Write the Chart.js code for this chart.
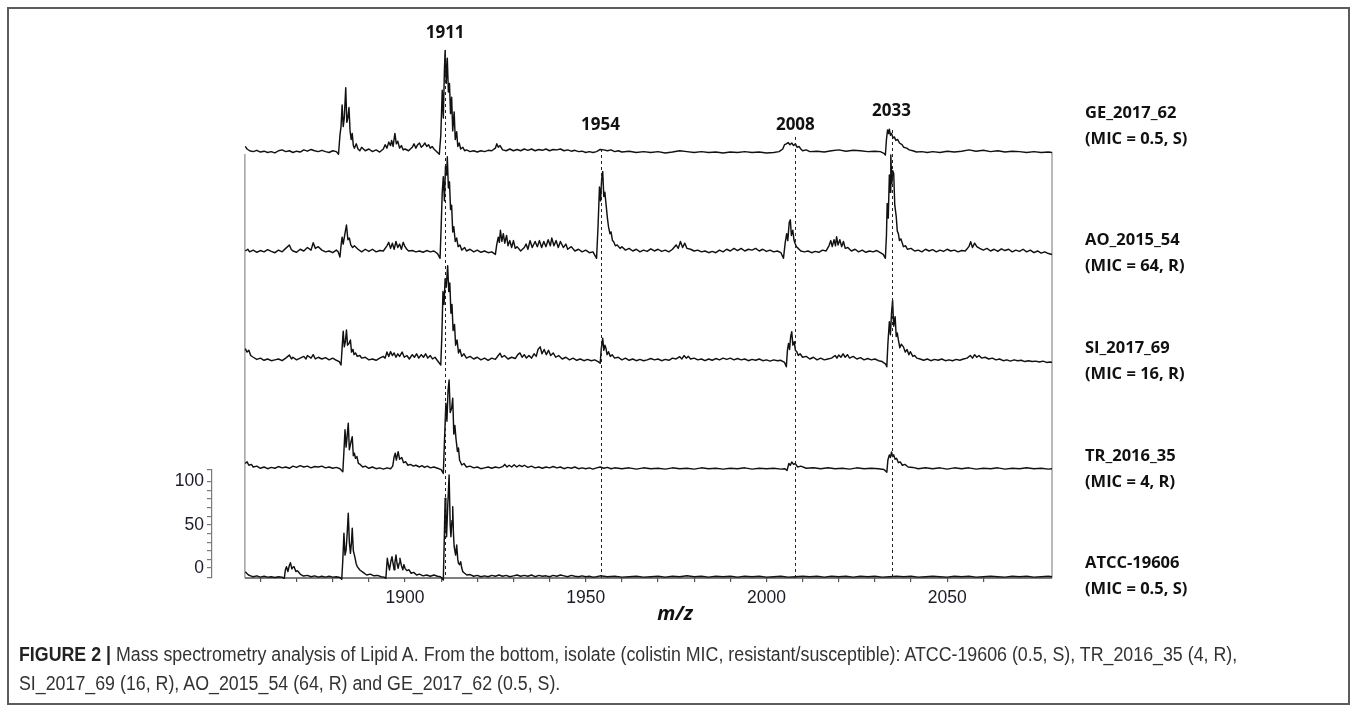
<!DOCTYPE html>
<html>
<head>
<meta charset="utf-8">
<title>Lipid A mass spectra</title>
<script src="https://cdn.jsdelivr.net/npm/chart.js@4.4.1/dist/chart.umd.min.js"></script>
<style>
  html, body { margin: 0; padding: 0; background: #fff; }
  body { width: 1357px; height: 712px; position: relative; overflow: hidden; }
  #frame { position: absolute; left: 7px; top: 7px; width: 1339px; height: 694px; border: 2px solid #5c5c5c; }
  #chartBox { position: absolute; left: 0; top: 0; width: 1357px; height: 640px; }
  #caption { position: absolute; left: 19px; top: 640px; white-space: nowrap;
    font-family: "Liberation Sans", Arial, sans-serif;
    font-size: 20px; line-height: 29px; color: #333;
    transform: scaleX(0.89); transform-origin: 0 0; }
  #caption b { color: #222; }
</style>
</head>
<body>
<div id="chartBox"><canvas id="spectra"></canvas></div>
<div id="frame"></div>
<div id="caption"><b>FIGURE 2 |</b> Mass spectrometry analysis of Lipid A. From the bottom, isolate (colistin MIC, resistant/susceptible): ATCC-19606 (0.5, S), TR_2016_35 (4, R),<br>SI_2017_69 (16, R), AO_2015_54 (64, R) and GE_2017_62 (0.5, S).</div>
<script>
// ---------------- Data (m/z, relative intensity) ----------------

// isolates, bottom to top
const isolateNames = ['ATCC-19606', 'TR_2016_35', 'SI_2017_69', 'AO_2015_54', 'GE_2017_62'];
const isolateMic = ['(MIC = 0.5, S)', '(MIC = 4, R)', '(MIC = 16, R)', '(MIC = 64, R)', '(MIC = 0.5, S)'];

// marked peaks
const markerMz = [1911.1, 1954.1, 2008, 2034.6];
const markerText = ['1911', '1954', '2008', '2033'];

// tick labels
const xTickLabels = [1900, 1950, 2000, 2050];
const yTickLabels = [0, 50, 100];

const atccSpectrum = [
  [1855.8, -4.2], [1856.2, -6], [1856.7, -8], [1857.3, -9], [1858, -10], [1859, -9], [1860, -10.5], [1861, -9.5],
  [1862, -10.5], [1863, -10], [1864, -11], [1865, -10], [1866, -10.5], [1866.6, -11.9],
  [1866.9, -2], [1867.2, 1.6], [1867.6, -4], [1868, 3], [1868.3, 6.2], [1868.7, -1], [1869, 1], [1869.3, 1.6],
  [1869.8, -4], [1870.2, -3], [1870.5, -4.2], [1871, -7], [1871.9, -9.2], [1873, -8.5], [1874, -10], [1875, -9],
  [1876, -10.5], [1877, -9.5], [1878, -10.5], [1879, -9.5], [1880, -10.5], [1881, -10], [1882, -11], [1882.5, -13],
  [1882.8, 10], [1883.1, 40.2], [1883.4, 15], [1883.7, 20.9], [1884, 40], [1884.3, 63.4], [1884.6, 30], [1884.9, 17],
  [1885.2, 30], [1885.4, 46], [1885.7, 20], [1886, 15], [1886.2, 11.3], [1886.5, 5], [1886.8, 1.6], [1887.5, -2.2],
  [1888.4, -5], [1889.4, -8], [1890.4, -7], [1891.4, -9], [1892.4, -8.5], [1893.4, -10], [1894.2, -10.5], [1894.7, -11.9],
  [1895.1, 11.3], [1895.4, 4], [1895.7, -2.2], [1896.1, 8], [1896.4, 13.2], [1896.7, 5], [1897, -2], [1897.2, 6],
  [1897.5, 15.1], [1897.8, 5], [1898.1, -0.3], [1898.4, 6], [1898.6, 11.3], [1899, 3], [1899.4, -2], [1899.7, 4],
  [1900, -0.3], [1900.5, -3], [1901.1, -2], [1901.7, -6], [1902.4, -5], [1903.2, -8], [1904, -7], [1905, -9],
  [1906, -8], [1907, -9.5], [1908, -8], [1909, -9.5], [1909.8, -10], [1910.3, -12], [1910.6, -13.8],
  [1910.9, 40], [1911.1, 80.7], [1911.3, 50], [1911.5, 36.3], [1911.8, 70], [1912.2, 107.7], [1912.5, 50], [1912.7, 36.3],
  [1913, 55], [1913.2, 71], [1913.4, 40], [1913.6, 24.7], [1914, 15], [1914.3, 26.7], [1914.6, 10], [1914.8, 5.5],
  [1915.1, 4], [1915.4, 7.4], [1915.7, 0], [1916, -4.2], [1916.5, -6], [1917.1, -8], [1918, -7.5], [1919, -9.5],
  [1920, -8.5], [1921, -10], [1922, -9], [1923, -10], [1924, -8.5], [1925, -9.5], [1926, -8], [1927, -9.5],
  [1928, -8.5], [1929, -10], [1930, -9], [1931, -8], [1932, -9.5], [1933, -8.5], [1934, -9.5], [1935, -8],
  [1936, -10], [1937, -8.5], [1938, -9.5], [1939, -9], [1940, -10], [1941, -8.5], [1942, -9.5], [1943, -8],
  [1944, -9], [1945, -10], [1946, -8.5], [1947, -9.5], [1948, -10], [1949, -9], [1950, -10], [1951, -9.5],
  [1952, -10.5], [1953, -10], [1954, -9], [1956, -10], [1958, -9.5], [1960, -10.5], [1962, -10], [1964, -9.5],
  [1966, -10.5], [1968, -10], [1970, -9.5], [1972, -10.5], [1974, -9.5], [1976, -10], [1978, -9], [1980, -10],
  [1982, -9.5], [1984, -10.5], [1986, -9.5], [1988, -10], [1990, -9.5], [1992, -10.5], [1994, -9.5], [1996, -10],
  [1998, -9.5], [2000, -10.5], [2002, -10], [2004, -9.5], [2006, -10.5], [2008, -10], [2010, -9.5], [2012, -10],
  [2014, -9.5], [2016, -10.5], [2018, -9.5], [2020, -10], [2022, -9.5], [2024, -10.5], [2026, -9.5], [2028, -10],
  [2030, -9.5], [2032, -10.5], [2034, -10], [2036, -9.5], [2038, -10], [2040, -9.5], [2042, -10.5], [2044, -10],
  [2046, -9.5], [2048, -10], [2050, -10.5], [2052, -9.5], [2054, -10], [2056, -9.5], [2058, -10.5], [2060, -10],
  [2062, -9.5], [2064, -10], [2066, -10.5], [2068, -9.5], [2070, -10], [2072, -9.5], [2074, -10.5], [2076, -10],
  [2078, -9.5], [2079, -10]
];

const trSpectrum = [
  [1855.8, -4], [1856.3, -2], [1856.8, -6], [1857.5, -5], [1858, -8], [1859, -7], [1860, -9.5], [1861, -8],
  [1862, -10], [1863, -8.5], [1864, -9.5], [1865, -7.5], [1866, -9], [1867, -8], [1868, -9.5], [1869, -7],
  [1870, -8.5], [1871, -6.5], [1872, -8], [1873, -7], [1874, -9], [1875, -7.5], [1876, -8], [1877, -7],
  [1878, -9], [1879, -8], [1880, -9.5], [1881, -8.5], [1882, -10], [1882.8, -13.5],
  [1883.1, 10], [1883.4, 35], [1883.7, 15], [1884, 28], [1884.3, 42.5], [1884.6, 12], [1885, 20], [1885.4, 27],
  [1885.7, 5], [1886, 8], [1886.3, 2], [1886.7, 4], [1887.1, -3.7], [1887.6, -5], [1888.3, -8], [1889, -7],
  [1890, -9.5], [1891, -8], [1892, -10], [1893, -9], [1894, -10.5], [1895, -9], [1896, -10], [1896.6, -7],
  [1897, 4], [1897.3, 8], [1897.6, 0], [1898.1, 9.7], [1898.5, 1], [1899.1, 3], [1899.6, -3], [1900.2, -2],
  [1900.8, -6], [1901.5, -5], [1902.3, -7], [1903, -6], [1904, -8], [1904.7, -6.5], [1905.4, -8.5], [1906.2, -7],
  [1907, -9], [1908, -8], [1909, -9.5], [1910, -11], [1910.6, -15.4],
  [1910.9, 20], [1911.3, 65.7], [1911.6, 45], [1911.9, 80], [1912.2, 92.7], [1912.5, 55], [1912.9, 60], [1913.2, 71.5],
  [1913.5, 30], [1913.8, 40], [1914.1, 25], [1914.5, 10], [1914.8, 14], [1915.1, 0], [1915.7, -5.7], [1916.3, -4],
  [1917, -8], [1918, -7], [1919, -9], [1920, -8], [1921, -10], [1922, -9], [1923, -8], [1924, -9.5],
  [1925, -8], [1926, -9], [1927, -7.6], [1927.6, -5], [1928.2, -8], [1928.8, -6], [1929.5, -8], [1930.2, -5.5],
  [1930.9, -8], [1931.6, -6], [1932.4, -7.5], [1933, -6], [1934, -8.5], [1935, -7], [1936, -9], [1937, -8],
  [1938, -9.5], [1939, -8], [1940, -9], [1941, -7.5], [1942, -9], [1943, -8], [1944, -10], [1945, -8.5],
  [1946, -9.5], [1947, -8], [1948, -10], [1949, -9], [1950, -10], [1951, -9], [1952, -10.5], [1953, -9],
  [1954, -8], [1955, -9.5], [1956, -8.5], [1957, -10], [1958, -9], [1960, -10], [1962, -9], [1964, -10.5],
  [1966, -9], [1968, -10], [1970, -9.5], [1972, -10.5], [1974, -9], [1976, -10], [1978, -9.5], [1980, -10.5],
  [1982, -9], [1984, -10], [1986, -9.5], [1988, -10.5], [1990, -9.5], [1992, -10], [1994, -9], [1996, -10.5],
  [1998, -9.5], [2000, -10], [2002, -9.5], [2004, -10.5], [2005, -10], [2005.7, -12], [2006.2, -4], [2006.6, -6],
  [2007, -2.2], [2007.5, -5], [2008, -4], [2008.6, -8], [2009.5, -7], [2011, -9.5], [2013, -9], [2015, -10],
  [2017, -9], [2019, -10], [2021, -9.5], [2023, -10.5], [2025, -9], [2027, -10], [2029, -9.5], [2031, -10],
  [2032.5, -11], [2033.3, -14],
  [2033.6, 0], [2034, 6], [2034.3, 3], [2034.6, 9.3], [2034.9, 4], [2035.2, 6], [2035.6, 1], [2036, 2],
  [2036.5, -3], [2037, -2], [2037.6, -6], [2038.3, -5], [2039.2, -8], [2040.5, -8.5], [2042, -10], [2044, -9],
  [2046, -10], [2048, -9], [2050, -10.5], [2052, -9], [2054, -10], [2056, -9], [2058, -10.5], [2060, -9.5],
  [2062, -10], [2064, -9], [2066, -10.5], [2068, -9.5], [2070, -10], [2072, -9], [2074, -10], [2076, -9.5],
  [2078, -10.5], [2079, -10]
];

const siSpectrum = [
  [1855.8, 4], [1856.3, 0], [1856.8, 2], [1857.3, -4], [1858, -6], [1859, -8.5], [1860, -7], [1861, -9.5],
  [1862, -8], [1863, -10], [1864, -9], [1865, -8], [1866, -10], [1867, -7], [1868, -3.5], [1868.6, -8],
  [1869, -6], [1870, -9], [1871, -7], [1872, -5], [1872.6, -8], [1873, -4], [1874, -7], [1874.6, -3],
  [1875.2, -8], [1876, -6], [1877, -8], [1878, -6.5], [1879, -9], [1880, -7], [1881, -9.5], [1881.8, -11], [1882.3, -15],
  [1882.6, 5], [1882.9, 24], [1883.2, 6], [1883.5, 12], [1883.8, 25.5], [1884.1, 8], [1884.5, 10], [1884.9, 14],
  [1885.2, 0], [1885.6, 3], [1885.9, -3], [1886.3, -1], [1886.8, -5], [1887.5, -4], [1888, -7], [1889, -6],
  [1890, -9], [1891, -8], [1892, -9.5], [1893, -7], [1894, -5], [1894.5, -7], [1895, 0], [1895.5, -5],
  [1896, 0.5], [1896.5, -4], [1897, -1], [1897.5, -6], [1898, -2], [1898.5, -5], [1899.2, 0], [1899.8, -6],
  [1900.5, -4], [1901.2, -8], [1902, -3], [1902.6, -6], [1903.2, -2], [1903.8, -7], [1904.5, -3], [1905.1, -6],
  [1905.7, -2], [1906.3, -7], [1907, -4], [1907.6, -8], [1908.3, -6], [1909, -10], [1909.9, -15],
  [1910.2, 20], [1910.5, 70], [1910.8, 55], [1911.1, 85], [1911.4, 75], [1911.8, 100], [1912.1, 70], [1912.4, 80],
  [1912.7, 45], [1913, 55], [1913.3, 25], [1913.7, 32], [1914, 8], [1914.4, 14], [1914.8, -1], [1915.2, 3],
  [1915.7, -5], [1916.3, -2], [1917, -7], [1918, -5], [1919, -8], [1920, -6], [1921, -9], [1922, -7],
  [1923, -9.5], [1924, -7], [1925, -8.5], [1925.8, -4], [1926.3, -1.4], [1926.8, -6], [1927.5, -4], [1928.5, -8],
  [1929.5, -6], [1930.5, -7.5], [1931.2, -3], [1931.8, -1], [1932.4, -6], [1933, -3], [1933.6, -7], [1934.3, -4],
  [1935, -7], [1935.7, -2], [1936.3, -5], [1936.8, 3], [1937.4, 6], [1937.9, -2], [1938.5, 3], [1939.1, -3],
  [1939.7, 2], [1940.3, -4], [1941, -1], [1941.7, -6], [1942.5, -4], [1943.5, -8], [1944.5, -6], [1945.5, -9],
  [1946.5, -7], [1947.5, -9.5], [1948.5, -8], [1949.5, -10], [1950.5, -8.5], [1951.5, -10], [1952.5, -9], [1953.4, -11], [1954, -13],
  [1954.3, 4], [1954.7, 16], [1955, 2], [1955.3, 8], [1955.6, 4.4], [1955.9, -3], [1956.3, 0.4], [1956.8, -5],
  [1957.3, -3], [1958, -7], [1959, -6], [1960, -9], [1961, -7], [1962, -9.5], [1963, -8], [1964, -10],
  [1965, -8.5], [1966, -10], [1967, -9], [1968, -7.5], [1969, -9], [1970, -8], [1971, -10], [1972, -8.5],
  [1973, -9.5], [1974, -7], [1975, -8], [1976, -5.4], [1976.6, -8], [1977.2, -4], [1977.8, -7], [1978.4, -5],
  [1979, -8], [1980, -7], [1981, -9], [1982, -8], [1983, -10], [1984, -8], [1985, -9.5], [1986, -7.5],
  [1987, -9], [1988, -7], [1989, -8.5], [1990, -7], [1991, -9], [1992, -7.5], [1993, -9], [1994, -8],
  [1995, -10], [1996, -8.5], [1997, -9.5], [1998, -8], [1999, -10], [2000, -9], [2001, -10.5], [2002, -9],
  [2003, -10], [2004, -9.5], [2005, -12], [2005.5, -17],
  [2005.8, 2], [2006.1, 10], [2006.4, 3], [2006.7, 18], [2007, 23.6], [2007.3, 8], [2007.7, 12], [2008, 2],
  [2008.4, 0.4], [2008.8, -4], [2009.3, -2], [2010, -6], [2011, -5], [2012, -8], [2013, -6], [2014, -9],
  [2015, -7], [2016, -9], [2017, -8], [2018, -7], [2019, -4], [2019.5, -7], [2020, -3.4], [2020.6, -6],
  [2021.2, -2], [2021.8, -6], [2022.4, -3], [2023, -7], [2024, -5], [2025, -8], [2026, -6.5], [2027, -9],
  [2028, -7.5], [2029, -9], [2030, -8], [2031, -10], [2032, -11], [2033, -14], [2033.3, -17],
  [2033.6, 10], [2034, 35], [2034.3, 20], [2034.6, 45], [2034.9, 60], [2035.2, 30], [2035.6, 41], [2035.9, 18],
  [2036.2, 22], [2036.5, 14], [2036.9, 5], [2037.3, 9], [2037.9, 6], [2038.4, 0], [2038.9, 3], [2039.4, -3],
  [2039.8, 0.4], [2040.5, -5], [2041, -4], [2041.6, -7], [2042.5, -8], [2043.5, -9.5], [2044.5, -8], [2045.5, -10],
  [2046.5, -8.5], [2047.5, -9.5], [2048.5, -8], [2049.5, -10], [2050.5, -9], [2051.5, -10], [2052.5, -8.5], [2053.5, -9.5],
  [2054.5, -8], [2055.5, -7], [2056.4, -4], [2057, -7], [2057.6, -3], [2058.2, -6], [2058.8, -4], [2059.5, -7],
  [2060.5, -6], [2061.5, -8], [2062.5, -7], [2063.5, -9], [2064.5, -8], [2065.5, -10], [2066.5, -9], [2067.5, -10.5],
  [2068.5, -9], [2069.5, -10], [2070.5, -9.5], [2071.5, -11], [2072.5, -10], [2073.5, -11], [2074.5, -10.5], [2075.5, -11.5],
  [2076.5, -10.5], [2077.5, -12], [2078.5, -11.5], [2079, -12]
];

const aoSpectrum = [
  [1855.8, -8], [1856.5, -6], [1857, -9], [1858, -7], [1859, -9.5], [1860, -7.5], [1861, -9], [1862, -6.5],
  [1863, -8.5], [1864, -10], [1865, -7], [1866, -9], [1867, -5], [1868, -1], [1868.5, -6], [1869, -8],
  [1870, -9.5], [1871, -6], [1872, -8], [1873, -4], [1874, -7], [1874.6, 1.5], [1875.2, -5], [1876, -3],
  [1877, -7], [1878, -9], [1879, -8], [1880, -10], [1881, -7], [1881.5, -9], [1882, -15],
  [1882.3, -2], [1882.6, 8], [1882.9, 0], [1883.3, 10], [1883.8, 22], [1884.2, 5], [1884.6, 7], [1885, -1],
  [1885.5, -4], [1886, -2], [1887, -6], [1888, -9], [1889, -6], [1890, -8.5], [1891, -6], [1892, -9],
  [1893, -7.5], [1894, -8], [1895, -2], [1895.5, 2], [1896, -5], [1896.5, 1], [1897, -6], [1897.5, 3],
  [1898, -4], [1898.5, 0], [1899, -6], [1899.5, 2], [1900, -3], [1900.5, -6], [1901, -8], [1902, -7.5],
  [1903, -9], [1904, -8], [1905, -9.5], [1906, -7.5], [1907, -9], [1908, -8], [1909, -11], [1909.7, -16.5],
  [1910, 20], [1910.3, 60], [1910.6, 78], [1910.9, 50], [1911.2, 90], [1911.5, 80], [1911.7, 101], [1912, 65],
  [1912.3, 72], [1912.6, 40], [1912.9, 45], [1913.2, 14], [1913.5, 20], [1913.9, 3], [1914.3, 7], [1914.7, -3],
  [1915.2, -1], [1915.7, -7], [1916.5, -4], [1917, -8], [1918, -6], [1919, -9], [1920, -7], [1921, -9.5],
  [1922, -8], [1923, -10], [1924, -9], [1925, -12],
  [1925.4, 0], [1925.8, 8], [1926.1, 2], [1926.4, 16], [1926.8, 3], [1927.2, 12], [1927.6, 1], [1928.1, 10],
  [1928.5, -2], [1929, 4], [1929.5, -4], [1930, 4], [1930.5, -5], [1931, -3], [1932, -8], [1933, -4],
  [1933.5, 0], [1934, -6], [1934.6, 4], [1935.2, -4], [1936, 3], [1936.6, -3], [1937.2, 4], [1937.8, -4],
  [1938.4, 3], [1939, -3], [1939.6, 5], [1940.2, -2], [1940.6, 7], [1941.2, -2], [1941.8, 4], [1942.4, -4],
  [1943, 3], [1943.8, -4], [1944.5, 0], [1945, -6], [1946, -3], [1947, -8], [1948, -6], [1949, -9],
  [1950, -7], [1951, -10], [1952, -9], [1953, -16.5],
  [1953.4, 20], [1953.8, 66], [1954.1, 50], [1954.4, 75], [1954.7, 84], [1955, 55], [1955.3, 60], [1955.6, 47],
  [1956, 30], [1956.3, 20], [1956.7, 12], [1957, 14], [1957.4, 4], [1957.7, 3], [1958.2, -2], [1958.7, -1],
  [1959.5, -5], [1960, -3], [1961, -7], [1962, -5], [1963, -8], [1964, -6], [1965, -9], [1966, -7],
  [1967, -8.5], [1968, -5.5], [1969, -8], [1970, -6], [1971, -8.5], [1972, -7], [1973, -9], [1974, -6],
  [1975, -1], [1975.6, -5], [1976.2, 3], [1976.8, -4], [1977.4, 1], [1978, -5], [1979, -6], [1980, -8],
  [1981, -7], [1982, -9], [1983, -8], [1984, -10], [1985, -8.5], [1986, -10], [1987, -7], [1988, -9],
  [1989, -6], [1990, -8], [1991, -5], [1992, -7.5], [1993, -5], [1994, -8], [1995, -6], [1996, -7],
  [1997, -5], [1998, -8], [1999, -6], [2000, -8.5], [2001, -7], [2002, -9], [2003, -8], [2004, -10], [2004.7, -16.5],
  [2005.2, 2], [2005.6, 12], [2005.9, 4], [2006.3, 25], [2006.6, 28], [2006.9, 10], [2007.3, 16], [2007.6, 5],
  [2007.9, 1], [2008.3, -3], [2008.8, -5], [2009.5, -8], [2010.5, -9], [2011.5, -8], [2012.5, -10], [2013.5, -8.5],
  [2014.5, -9.5], [2015.5, -7], [2016.5, -8], [2017.3, -2], [2017.8, 4], [2018.2, -3], [2018.7, 5], [2019.1, -2],
  [2019.4, 8.5], [2019.8, -1], [2020.3, 5], [2020.8, -3], [2021.3, 3], [2021.8, -5], [2022.5, -4], [2023.5, -8],
  [2024.5, -6], [2025.5, -9], [2026.5, -7], [2027.5, -9.5], [2028.5, -8], [2029.5, -9], [2030.5, -7.5], [2031.5, -10],
  [2032.3, -12], [2032.9, -16.5],
  [2033.2, 10], [2033.4, 47], [2033.7, 30], [2034, 80], [2034.2, 60], [2034.4, 103], [2034.7, 70], [2034.9, 85],
  [2035.2, 82], [2035.5, 45], [2035.9, 32], [2036.2, 15], [2036.5, 12], [2036.8, 4], [2037.2, 6], [2037.9, -3],
  [2038.5, -2], [2039, -6], [2040, -5], [2041, -8], [2042, -7], [2043, -9], [2044, -6], [2045, -8],
  [2046, -6.5], [2047, -9], [2048, -7], [2049, -8.5], [2050, -6], [2051, -8], [2052, -7], [2053, -9],
  [2054, -7.5], [2055, -8], [2056, -3], [2056.5, 2.7], [2057, -4], [2057.6, 1], [2058.2, -3], [2059, -5],
  [2060, -7], [2061, -5], [2062, -8], [2063, -6], [2064, -8.5], [2065, -5.5], [2066, -7.5], [2067, -6],
  [2068, -9], [2069, -7], [2070, -8.5], [2071, -6], [2072, -9], [2073, -7], [2074, -10], [2075, -8],
  [2076, -10.5], [2077, -9], [2078, -11], [2079, -12]
];

const geSpectrum = [
  [1855.8, -3], [1856.3, -6], [1857, -8], [1858, -9], [1859, -7.5], [1860, -9.5], [1861, -8.5], [1862, -10],
  [1863, -9], [1864, -10.5], [1865, -8], [1866, -7], [1867, -9], [1868, -8], [1869, -10], [1870, -8.5],
  [1871, -9.5], [1872, -7], [1873, -8.5], [1874, -6.5], [1875, -8], [1876, -9], [1877, -7.5], [1878, -9],
  [1879, -10], [1880, -8], [1881, -9], [1881.6, -12],
  [1882, 10], [1882.3, 20], [1882.6, 45], [1882.9, 20], [1883.2, 30], [1883.6, 65], [1883.9, 25], [1884.2, 30],
  [1884.5, 42], [1884.8, 15], [1885.1, 5], [1885.4, 12], [1885.7, -2], [1886, -5], [1886.5, 0], [1887, -6],
  [1887.5, -8], [1888, -4], [1889, -8], [1890, -6], [1891, -9], [1892, -7], [1893, -9.5], [1894, -6],
  [1894.5, -1], [1895, -5], [1895.5, 2], [1896, -2], [1896.3, 4], [1896.7, -3], [1897.2, 12], [1897.6, 0],
  [1898, 3], [1898.5, -5], [1899, -2], [1899.5, -7], [1900, -6], [1901, -8], [1902, -4], [1902.5, 0],
  [1903, -5], [1903.5, -1], [1904, 1], [1904.5, -4], [1905, -2], [1905.5, 1], [1906, -3], [1906.5, -1],
  [1907, -5], [1907.5, -3], [1908, -6], [1908.5, -8], [1909, -10], [1909.5, -12],
  [1909.9, 10], [1910.3, 62], [1910.6, 30], [1910.9, 85], [1911.1, 108], [1911.4, 70], [1911.7, 99], [1912, 60],
  [1912.3, 70], [1912.6, 35], [1912.9, 54], [1913.2, 15], [1913.6, 37], [1913.9, 5], [1914.3, 14], [1914.6, -3],
  [1915, 1], [1915.4, -6], [1916, -4], [1916.5, -8], [1917, -7], [1918, -9], [1919, -8], [1920, -9.5],
  [1921, -8], [1922, -9], [1923, -7.5], [1924, -8], [1925, -5], [1925.4, 0], [1925.8, -4], [1926.3, -2],
  [1927, -7], [1928, -8], [1929, -6], [1930, -8], [1931, -6.5], [1932, -8], [1933, -6], [1934, -7.5],
  [1935, -6], [1936, -8], [1937, -6.5], [1938, -7.5], [1939, -6], [1940, -8], [1941, -6.5], [1942, -7],
  [1943, -6], [1944, -8], [1945, -7], [1946, -8.5], [1947, -7.5], [1948, -9], [1949, -8.5], [1950, -10],
  [1951, -9], [1952, -10], [1953, -9], [1954, -6.5], [1955, -7], [1956, -8], [1957, -7], [1958, -9],
  [1959, -8], [1960, -9.5], [1962, -8.5], [1964, -10], [1966, -9], [1968, -10], [1970, -9], [1972, -10.5],
  [1974, -9.5], [1976, -8], [1978, -9], [1980, -10], [1982, -9], [1984, -10], [1986, -9.5], [1988, -10.5],
  [1990, -9.5], [1992, -10], [1994, -9], [1996, -10], [1998, -9.5], [2000, -10.5], [2002, -10], [2003.5, -9],
  [2004.5, -6], [2005, -1], [2005.5, 0], [2006, 1.5], [2006.5, -1], [2007, 1], [2007.5, -2], [2008, 0],
  [2008.5, -4], [2009, -3], [2009.5, -6], [2010, -8], [2011, -7], [2012, -9], [2014, -8.5], [2016, -9.5],
  [2018, -8], [2020, -7], [2022, -8.5], [2024, -7.5], [2026, -8], [2028, -9], [2030, -8.5], [2031.5, -9],
  [2032.5, -11], [2032.9, -13],
  [2033.2, 5], [2033.5, 16], [2033.8, 12], [2034, 17], [2034.3, 10], [2034.6, 12], [2035, 7], [2035.4, 8],
  [2035.8, 4], [2036.3, 5], [2036.8, 1], [2037.5, -1], [2038, -4], [2038.8, -5], [2039.5, -7], [2040.5, -8],
  [2041.5, -9.5], [2043, -9], [2044.5, -10], [2046, -9], [2048, -10], [2050, -8.5], [2052, -9.5], [2054, -8.5],
  [2056, -7], [2058, -8.5], [2060, -7.5], [2062, -9], [2064, -8], [2066, -9.5], [2068, -8.5], [2070, -9],
  [2072, -10], [2074, -9], [2076, -10], [2078, -9.5], [2079, -10]
];

// ---------------- Layout / styling (not data) ----------------
const axisIds = ['yATCC', 'yTR', 'ySI', 'yAO', 'yGE'];
const spectra = [atccSpectrum, trSpectrum, siSpectrum, aoSpectrum, geSpectrum];
const nameLevel = [6, 4.7, 4.7, 4.7, 35.7];       // where the isolate name sits, in each trace's own units
const markerTopLevel = [108.6, -6, 8, 16];         // top of dashed marker lines, in top-trace units
const markerTextLevel = [128.3, 21.8, 21.8, 38];   // centre of marker text, in top-trace units
const frameStartMz = 1855.7;
const frameTopLevel = -9.4;

Chart.defaults.font.family = '"Liberation Sans", Arial, sans-serif';
Chart.defaults.color = '#222';

// draws the plot frame, the dashed peak markers and the text next to the traces
const spectrumDecor = {
  id: 'spectrumDecor',
  beforeDatasetsDraw(chart) {
    const {ctx, chartArea, scales} = chart;
    const left = scales.x.getPixelForValue(frameStartMz);
    const top = scales.yGE.getPixelForValue(frameTopLevel);
    ctx.save();
    ctx.strokeStyle = '#8c8c8c';
    ctx.lineWidth = 1.2;
    ctx.beginPath();
    ctx.moveTo(left, top + 2);
    ctx.lineTo(left, chartArea.bottom);
    ctx.moveTo(chartArea.right, top);
    ctx.lineTo(chartArea.right, chartArea.bottom);
    ctx.stroke();
    ctx.strokeStyle = '#555';
    ctx.lineWidth = 1.6;
    ctx.beginPath();
    ctx.moveTo(left, chartArea.bottom);
    ctx.lineTo(chartArea.right, chartArea.bottom);
    ctx.stroke();
    ctx.restore();
  },
  afterDatasetsDraw(chart) {
    const {ctx, chartArea, scales} = chart;
    ctx.save();
    // dashed lines through the marked peaks
    ctx.strokeStyle = '#222';
    ctx.lineWidth = 1;
    ctx.setLineDash([3, 3]);
    markerMz.forEach((mz, i) => {
      const x = Math.round(scales.x.getPixelForValue(mz)) + 0.5;
      ctx.beginPath();
      ctx.moveTo(x, scales.yGE.getPixelForValue(markerTopLevel[i]));
      ctx.lineTo(x, chartArea.bottom);
      ctx.stroke();
    });
    ctx.setLineDash([]);

    ctx.fillStyle = '#111';
    ctx.font = 'bold 17px "Open Sans", "DejaVu Sans", sans-serif';
    ctx.textAlign = 'center';
    ctx.textBaseline = 'middle';
    markerMz.forEach((mz, i) => {
      ctx.fillText(markerText[i], scales.x.getPixelForValue(mz), scales.yGE.getPixelForValue(markerTextLevel[i]));
    });

    // isolate names at the right
    ctx.textAlign = 'left';
    ctx.font = 'bold 16.5px "Open Sans", "DejaVu Sans", sans-serif';
    axisIds.forEach((id, i) => {
      const y = scales[id].getPixelForValue(nameLevel[i]);
      ctx.fillText(isolateNames[i], chartArea.right + 33, y);
      ctx.fillText(isolateMic[i], chartArea.right + 33, y + 26);
    });

    // axis title
    ctx.textAlign = 'center';
    ctx.font = 'italic bold 20px "Open Sans", "DejaVu Sans", sans-serif';
    ctx.fillText('m/z', scales.x.getPixelForValue(1974.7), chartArea.bottom + 36);
    ctx.restore();
  }
};

function bandAxis(min, max, visible) {
  return {
    type: 'linear',
    position: 'left',
    stack: 'isolates',
    stackWeight: 1,
    display: visible,
    min: min,
    max: max,
    grid: { drawOnChartArea: false, drawTicks: true, tickLength: 5, color: '#7a7a7a', lineWidth: 1.2 },
    border: { display: true, color: '#7a7a7a', width: 1.2 },
    ticks: {
      stepSize: 10,
      autoSkip: false,
      padding: 3,
      font: { size: 17.5 },
      color: '#1c1c28',
      callback: (v) => yTickLabels.includes(v) ? String(v) : ''
    },
    afterFit: (scale) => { scale.width = 50; }
  };
}

const ctx = document.getElementById('spectra');
const chart = new Chart(ctx, {
  type: 'line',
  data: {
    datasets: spectra.map((points, i) => ({
      label: isolateNames[i],
      data: points.map(p => ({ x: p[0], y: p[1] })),
      yAxisID: axisIds[i],
      borderColor: '#111',
      borderWidth: 1.45,
      pointRadius: 0,
      tension: 0,
      clip: false,
      borderJoinStyle: 'round'
    }))
  },
  options: {
    responsive: true,
    maintainAspectRatio: false,
    animation: false,
    events: [],
    layout: { padding: { left: 162, right: 305, top: 38, bottom: 32 } },
    plugins: { legend: { display: false }, tooltip: { enabled: false } },
    scales: {
      x: {
        type: 'linear',
        min: 1846.6,
        max: 2079,
        grid: { drawOnChartArea: false, drawTicks: true, tickLength: 4, color: '#555', lineWidth: 1.2 },
        border: { display: false },
        ticks: {
          stepSize: 10,
          autoSkip: false,
          maxRotation: 0,
          padding: 6,
          font: { size: 17.5 },
          color: '#1c1c28',
          callback: (v) => xTickLabels.includes(v) ? String(v) : ''
        },
        afterBuildTicks: (axis) => {
          axis.ticks = axis.ticks.filter(t => t.value >= 1860 && t.value % 10 === 0);
        },
        afterFit: (scale) => { scale.height = 30; }
      },
      yATCC: bandAxis(-11.5, 113.5, true),
      yTR: bandAxis(-11.5, 113.5, false),
      ySI: bandAxis(-11.5, 113.5, false),
      yAO: bandAxis(-11.5, 113.5, false),
      yGE: bandAxis(-2.5, 122.5, false)
    }
  },
  plugins: [spectrumDecor]
});
</script>
</body>
</html>
